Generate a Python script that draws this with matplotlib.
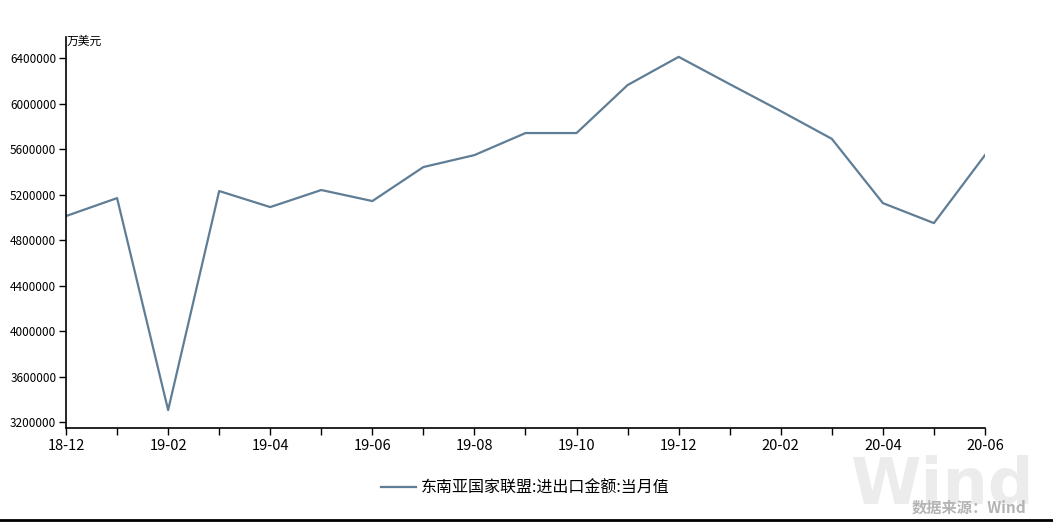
import matplotlib
matplotlib.use("Agg")
import matplotlib.pyplot as plt
from matplotlib.ticker import MultipleLocator, FixedLocator

plt.rcParams["font.family"] = ["Noto Sans CJK SC", "DejaVu Sans"]

# 月份与数值(万美元)
months = ["18-12", "19-01", "19-02", "19-03", "19-04", "19-05", "19-06",
          "19-07", "19-08", "19-09", "19-10", "19-11", "19-12", "20-01",
          "20-02", "20-03", "20-04", "20-05", "20-06"]
values = [5011000, 5169000, 3305000, 5231000, 5090000, 5240000, 5143000,
          5442000, 5547000, 5741000, 5741000, 6163000, 6411000, 6171000,
          5934000, 5690000, 5125000, 4949000, 5547000]
yticks = [3200000, 3600000, 4000000, 4400000, 4800000, 5200000,
          5600000, 6000000, 6400000]
series_name = "东南亚国家联盟:进出口金额:当月值"

fig = plt.figure(figsize=(10.53, 5.22), dpi=100)
ax = fig.add_axes([0.0627, 0.180, 0.8727, 0.749])

x = list(range(len(months)))
ax.plot(x, values, color="#5f7d95", linewidth=1.6, label=series_name)

ax.set_xlim(0, len(months) - 1)
ax.set_ylim(3147000, 6585000)

ax.xaxis.set_major_locator(FixedLocator(x[::2]))
ax.set_xticklabels(months[::2], fontsize=10.5)
ax.xaxis.set_minor_locator(MultipleLocator(1))
ax.set_yticks(yticks)
ax.set_yticklabels([str(v) for v in yticks], fontsize=8.5)
ax.tick_params(axis="x", which="both", length=5, width=1, direction="out", pad=3)
ax.tick_params(axis="y", length=5, width=1, direction="out", pad=2)

for s in ["top", "right"]:
    ax.spines[s].set_visible(False)
for s in ["left", "bottom"]:
    ax.spines[s].set_linewidth(1.2)
    ax.spines[s].set_color("black")

fig.text(67 / 1053, 1 - 41 / 522, "万美元", fontsize=8.5, ha="left", va="center")

ax.legend(loc="upper center", bbox_to_anchor=(0.5, -0.095), frameon=False,
          fontsize=11.5, handlelength=2.2, handletextpad=0.3)

# 水印
fig.text(942 / 1053, 1 - 486 / 522, "Wind", fontsize=46, fontweight="bold",
         color="#ececec", ha="center", va="center", family="DejaVu Sans", zorder=0)
fig.text(969 / 1053, 1 - 508 / 522, "数据来源：Wind", fontsize=11, color="#b4b4b4",
         ha="center", va="center", fontweight="bold")

# 底部黑线
fig.add_artist(plt.Line2D([0, 1], [0.004, 0.004], color="black", linewidth=2,
                          transform=fig.transFigure))

fig.savefig("out.png", dpi=100)
